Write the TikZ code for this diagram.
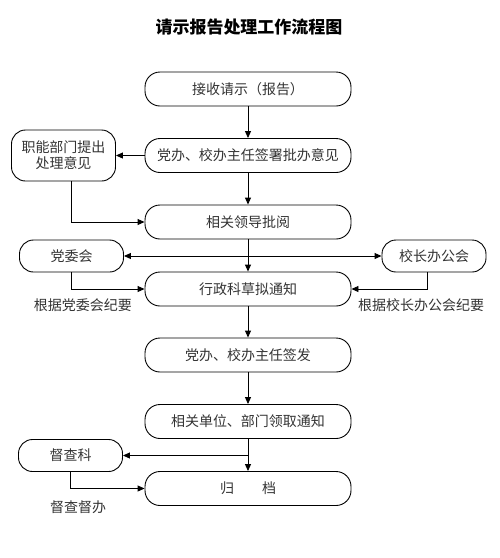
\documentclass[tikz,border=0pt]{standalone}
\usepackage{fontspec}
\setmainfont{Noto Sans CJK SC}
\usetikzlibrary{arrows.meta}
\begin{document}
\begin{tikzpicture}[x=1pt, y=-1pt, >={Triangle[length=7pt,width=6pt]},
  flowbox/.style={draw, line width=0.9pt, rounded corners=15pt, minimum width=206pt, minimum height=34pt, text=black!80, font=\fontsize{14}{16}\selectfont},
  sidebox/.style={draw, line width=0.9pt, rounded corners=14pt, minimum width=104pt, minimum height=32pt, text=black!80, font=\fontsize{14}{16}\selectfont},
  note/.style={text=black!80, font=\fontsize{14}{16}\selectfont},
  link/.style={->, line width=0.9pt}]
\useasboundingbox (0,0) rectangle (500,558);

\node (title) at (249,27) {\bfseries\fontsize{17}{19}\selectfont 请示报告处理工作流程图};

\node[flowbox] (recv) at (248,89) {接收请示（报告）};
\node[flowbox] (sign) at (248,155.5) {党办、校办主任签署批办意见};
\node[flowbox] (review) at (248,222) {相关领导批阅};
\node[flowbox] (draft) at (248,289) {行政科草拟通知};
\node[flowbox] (issue) at (248,355) {党办、校办主任签发};
\node[flowbox] (fetch) at (248,421.5) {相关单位、部门领取通知};
\node[flowbox] (archive) at (248,488.5) {归\hspace{2em}档};

\node[sidebox, minimum height=51pt, align=center] (dept) at (63.5,155.5) {职能部门提出\\处理意见};
\node[sidebox] (party) at (71.5,256) {党委会};
\node[sidebox] (office) at (434,256) {校长办公会};
\node[sidebox] (inspect) at (70.5,455.5) {督查科};

\node[note] (partynote) at (83,305) {根据党委会纪要};
\node[note] (officenote) at (421,305) {根据校长办公会纪要};
\node[note] (inspectnote) at (78,507) {督查督办};

\draw[link] (recv) -- (sign);
\draw[link] (sign) -- (dept);
\draw[link] (sign) -- (review);
\draw[link] (dept.south -| party.north) |- (review.west);
\draw[link, <->] (party) -- (office);
\draw[link] (review) -- (draft);
\draw[link] (party.south) |- (draft.west);
\draw[link] ([xshift=-7pt]office.south) |- (draft.east);
\draw[link] (draft) -- (issue);
\draw[link] (issue) -- (fetch);
\draw[link] (fetch) -- (archive);

\coordinate (split) at (fetch.south |- inspect.east);
\draw[link] (split) -- (inspect.east);
\draw[link] (inspect.south) |- (archive.west);
\end{tikzpicture}
\end{document}
